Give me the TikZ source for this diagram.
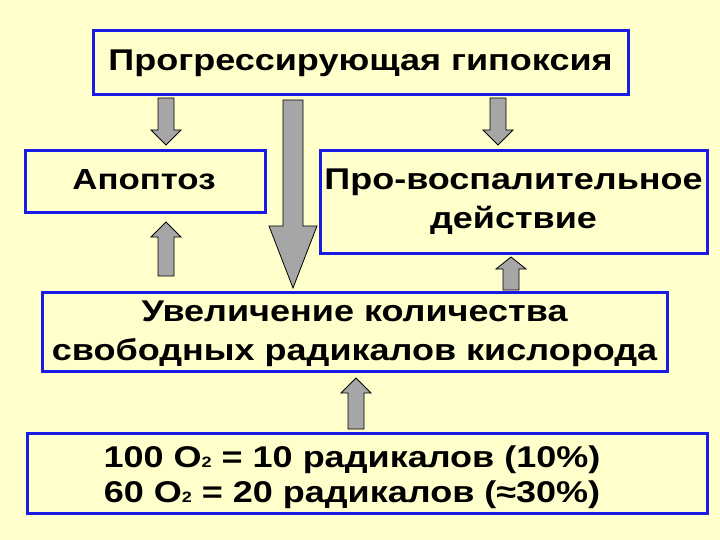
\documentclass[tikz,border=0pt]{standalone}
\usepackage{fontspec}
\setmainfont{Liberation Sans}[FakeStretch=1.2]
\definecolor{bg}{HTML}{FFFFCC}
\definecolor{bx}{HTML}{1A1AE6}
\definecolor{ar}{HTML}{A6A6A6}
\newcommand\blkarrow[6]{% x, ytail, yhead, shaft half, head half, head length (signed)
  \filldraw[fill=ar,draw=black,line width=0.8pt]
  (#1-#4,#2) -- (#1-#4,#3-#6) -- (#1-#5,#3-#6) -- (#1,#3) -- (#1+#5,#3-#6) -- (#1+#4,#3-#6) -- (#1+#4,#2) -- cycle;}
\begin{document}
\begin{tikzpicture}[x=1pt,y=-1pt,
  box/.style={draw=bx,line width=3pt,fill=bg,inner sep=0pt},
  txt/.style={font=\bfseries,align=center,text=black}]
\fill[bg] (0,0) rectangle (720,540);
\useasboundingbox (0,0) rectangle (720,540);
\node[box,minimum width=535pt,minimum height=64pt] (g) at (360.5,63) {};
\node[txt,font=\bfseries\fontsize{30}{34}\selectfont] at (g) {Прогрессирующая гипоксия};
\node[box,minimum width=240pt,minimum height=62pt] (a) at (145,182) {};
\node[txt,font=\bfseries\fontsize{29}{34}\selectfont] at (144,180) {Апоптоз};
\node[box,minimum width=387pt,minimum height=102pt] (p) at (513.5,202) {};
\node[txt,font=\bfseries\fontsize{30}{39}\selectfont] at (p) {Про-воспалительное\\действие};
\node[box,minimum width=625pt,minimum height=79pt] (u) at (354.5,331.5) {};
\node[txt,font=\bfseries\fontsize{30}{39}\selectfont] at (354.5,334) {Увеличение количества\\свободных радикалов кислорода};
\node[box,minimum width=680pt,minimum height=80pt] (b) at (367,473) {};
\node[txt,font=\bfseries\fontsize{30}{35}\selectfont] at (352,477) {100 O{\fontsize{15}{15}\selectfont 2} = 10 радикалов (10\%)\\60 O{\fontsize{15}{15}\selectfont 2} = 20 радикалов (≈30\%)};
\blkarrow{166}{98}{145}{8}{15}{15}
\blkarrow{498}{98}{145}{8}{15}{15}
\blkarrow{293}{100}{288}{10}{24}{62}
\blkarrow{166}{276}{222}{8}{15}{-15}
\blkarrow{511}{290}{257}{8}{15}{-12}
\blkarrow{356}{429}{378}{8}{15}{-15}
\end{tikzpicture}
\end{document}
